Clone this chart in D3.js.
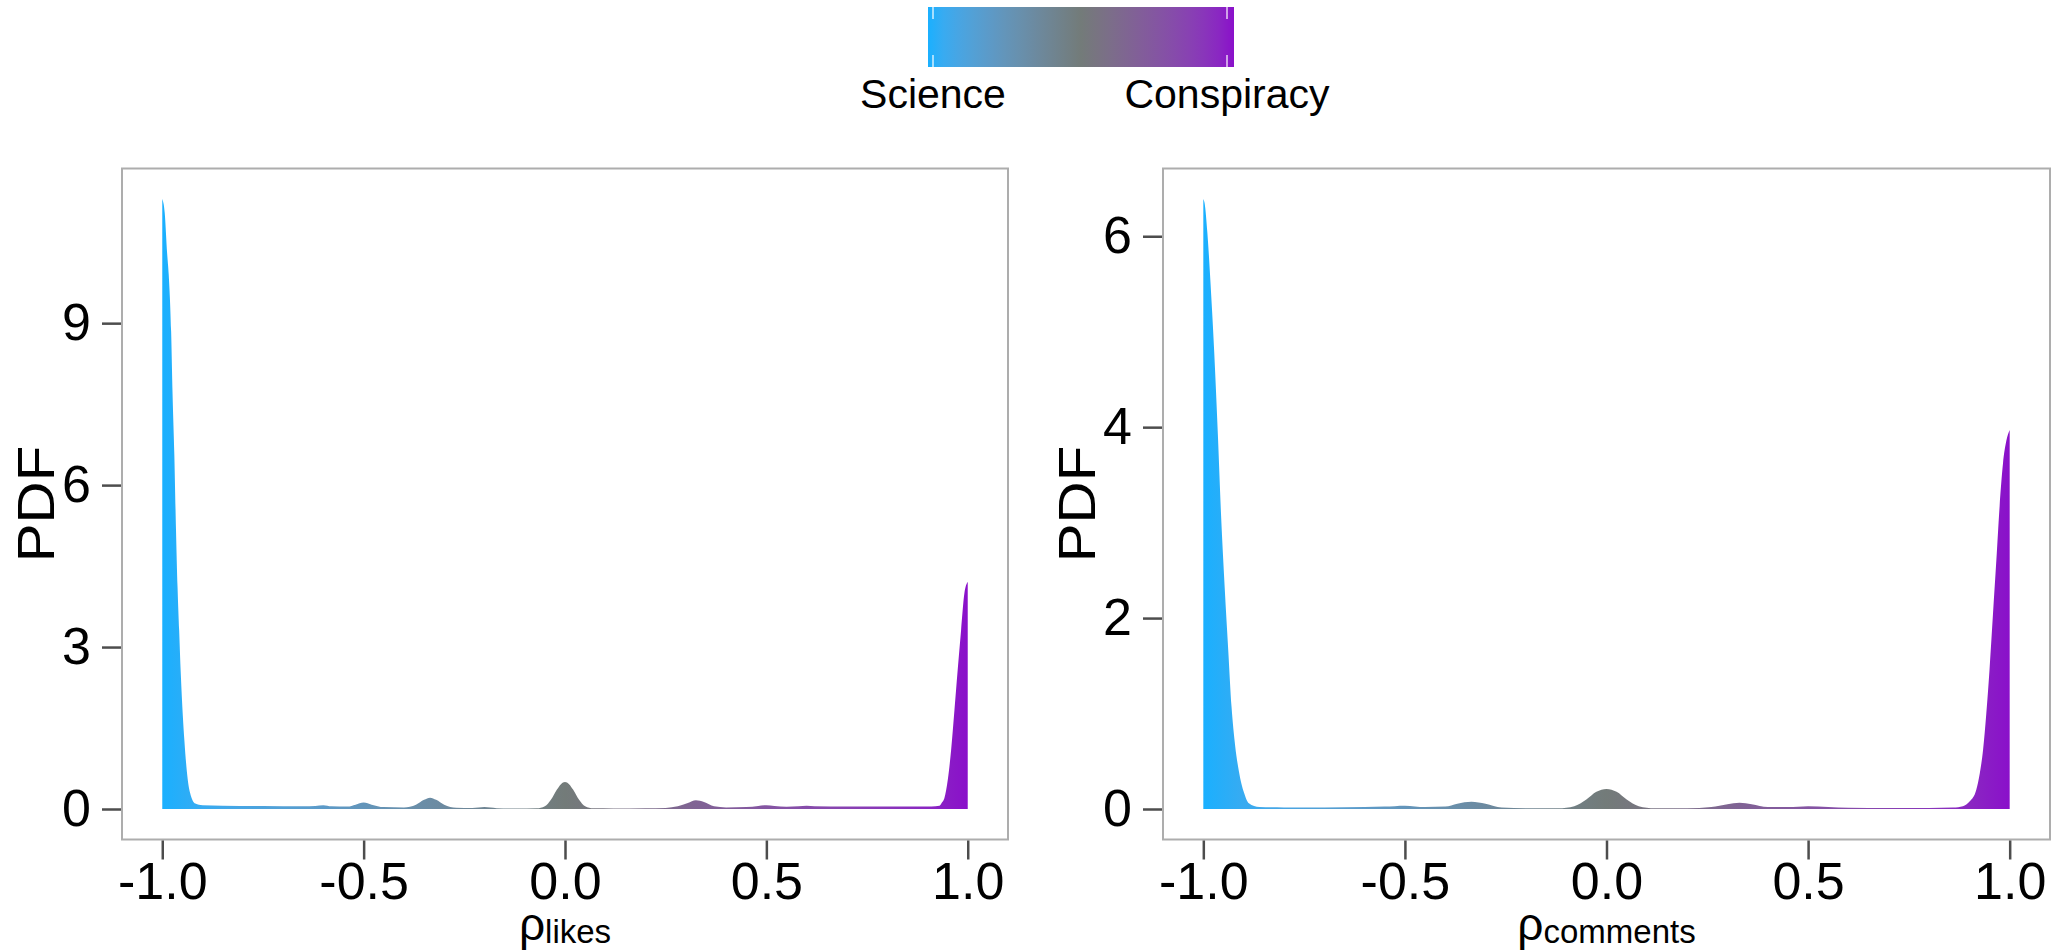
<!DOCTYPE html>
<html>
<head>
<meta charset="utf-8">
<script src="https://cdn.jsdelivr.net/npm/d3@7"></script>
<style>
  html, body { margin: 0; padding: 0; background: #fff; }
  svg { display: block; }
  text { font-family: "Liberation Sans", Arial, Helvetica, sans-serif; fill: #000; }
</style>
</head>
<body>
<svg id="chart" width="2060" height="952"></svg>
<script>
// ---------------- data ----------------
const legendLabels = ["Science", "Conspiracy"];
const xTicks = [-1.0, -0.5, 0.0, 0.5, 1.0];
const likesYTicks = [0, 3, 6, 9];
const commentsYTicks = [0, 2, 4, 6];

const likesX = [-1.000,-0.994,-0.988,-0.984,-0.978,-0.9745,-0.970,-0.966,-0.962,-0.958,-0.954,-0.949,-0.945,-0.939,-0.931,-0.918,-0.900,-0.85,-0.75,-0.65,-0.62,-0.60,-0.58,-0.54,-0.52,-0.50,-0.48,-0.45,-0.40,-0.37,-0.35,-0.335,-0.32,-0.30,-0.27,-0.23,-0.20,-0.17,-0.12,-0.07,-0.05,-0.035,-0.02,-0.01,0.0,0.01,0.02,0.035,0.05,0.07,0.12,0.20,0.25,0.28,0.305,0.325,0.345,0.37,0.40,0.45,0.48,0.50,0.52,0.55,0.58,0.60,0.62,0.70,0.80,0.90,0.920,0.930,0.936,0.942,0.9505,0.9587,0.967,0.975,0.9834,0.9918,1.0];
const likesY = [11.30,11.05,10.3,9.9,8.85,7.7,6.55,5.2,4.1,3.3,2.5,1.73,1.26,0.70,0.30,0.10,0.07,0.06,0.055,0.05,0.055,0.07,0.05,0.045,0.08,0.12,0.08,0.035,0.03,0.08,0.17,0.21,0.17,0.08,0.025,0.02,0.035,0.015,0.008,0.012,0.05,0.17,0.36,0.46,0.50,0.46,0.36,0.17,0.05,0.012,0.01,0.015,0.02,0.05,0.11,0.16,0.13,0.05,0.03,0.035,0.055,0.07,0.055,0.04,0.05,0.058,0.05,0.045,0.045,0.045,0.05,0.06,0.12,0.20,0.54,1.09,1.83,2.57,3.3,4.0,4.21];

const commentsX = [-1.000,-0.997,-0.990,-0.982,-0.973,-0.964,-0.956,-0.947,-0.938,-0.930,-0.921,-0.912,-0.899,-0.887,-0.861,-0.80,-0.70,-0.60,-0.55,-0.50,-0.45,-0.40,-0.37,-0.335,-0.30,-0.26,-0.20,-0.12,-0.08,-0.05,-0.025,0.0,0.025,0.05,0.08,0.12,0.20,0.26,0.30,0.33,0.36,0.40,0.45,0.50,0.55,0.60,0.70,0.80,0.860,0.884,0.901,0.917,0.9257,0.934,0.942,0.950,0.9587,0.967,0.975,0.9834,0.9918,1.0];
const commentsY = [6.39,6.35,6.04,5.5,4.79,3.93,3.08,2.32,1.65,1.07,0.66,0.40,0.17,0.06,0.02,0.017,0.017,0.02,0.025,0.035,0.02,0.025,0.055,0.075,0.055,0.015,0.007,0.008,0.03,0.10,0.18,0.21,0.18,0.10,0.03,0.008,0.007,0.02,0.05,0.065,0.05,0.02,0.02,0.03,0.02,0.012,0.01,0.01,0.015,0.03,0.08,0.20,0.37,0.62,1.0,1.46,2.05,2.61,3.17,3.62,3.86,3.97];

const colLow = "#1AB0FF", colMid = "#737B79", colHigh = "#8A10CA";

// ---------------- drawing ----------------
const svg = d3.select("#chart");
const defs = svg.append("defs");
const colorScale = d3.scaleLinear().domain([-1, 0, 1]).range([colLow, colMid, colHigh]).interpolate(d3.interpolateLab);

function stretch(sel, k) {
  sel.each(function () {
    const L = this.getComputedTextLength();
    d3.select(this).attr("textLength", L * k).attr("lengthAdjust", "spacingAndGlyphs");
  });
}

const panels = [
  { id: "likes", xs: likesX, ys: likesY, yTicks: likesYTicks, left: 122, right: 1008, sub: "likes" },
  { id: "comments", xs: commentsX, ys: commentsY, yTicks: commentsYTicks, left: 1163, right: 2050, sub: "comments" }
];
const panelTop = 168.5, panelBottom = 839.5;
const fontSize = 52;

panels.forEach(p => {
  const data = p.xs.map((x, i) => ({ x, y: p.ys[i] }));
  const ymax = d3.max(p.ys);
  const x = d3.scaleLinear().domain([-1.1, 1.1]).range([p.left, p.right]);
  const y = d3.scaleLinear().domain([-0.05 * ymax, 1.05 * ymax]).range([panelBottom, panelTop]);

  const gid = "grad-" + p.id;
  const grad = defs.append("linearGradient").attr("id", gid)
    .attr("gradientUnits", "userSpaceOnUse")
    .attr("x1", x(-1)).attr("x2", x(1)).attr("y1", 0).attr("y2", 0);
  d3.range(0, 1.0001, 0.05).forEach(t => {
    grad.append("stop").attr("offset", t).attr("stop-color", colorScale(-1 + 2 * t));
  });

  const g = svg.append("g");
  g.append("rect").attr("x", p.left).attr("y", panelTop)
    .attr("width", p.right - p.left).attr("height", panelBottom - panelTop)
    .attr("fill", "#fff").attr("stroke", "#ADADAD").attr("stroke-width", 2);

  const area = d3.area().x(d => x(d.x)).y0(y(0)).y1(d => y(d.y)).curve(d3.curveMonotoneX);
  g.append("path").datum(data).attr("d", area).attr("fill", `url(#${gid})`);

  const xAxis = d3.axisBottom(x).tickValues(xTicks).tickSize(19).tickPadding(3)
    .tickFormat(d => d3.format(".1f")(d).replace("−", "-"));
  const xg = g.append("g").attr("transform", `translate(0,${panelBottom + 1})`).call(xAxis);
  xg.select(".domain").remove();
  xg.selectAll(".tick line").attr("stroke", "#4d4d4d").attr("stroke-width", 2.5);
  xg.selectAll(".tick text").attr("font-size", fontSize).attr("fill", "#000")
    .attr("font-family", "'Liberation Sans', Arial, sans-serif");

  const yAxis = d3.axisLeft(y).tickValues(p.yTicks).tickSize(19).tickPadding(11).tickFormat(d3.format("d"));
  const yg = g.append("g").attr("transform", `translate(${p.left - 1},0)`).call(yAxis);
  yg.select(".domain").remove();
  yg.selectAll(".tick line").attr("stroke", "#4d4d4d").attr("stroke-width", 2.5);
  yg.selectAll(".tick text").attr("font-size", fontSize).attr("fill", "#000")
    .attr("font-family", "'Liberation Sans', Arial, sans-serif");

  const cy = (panelTop + panelBottom) / 2;
  g.append("text").attr("transform", `translate(${p.left - 68},${cy}) rotate(-90)`)
    .attr("text-anchor", "middle").attr("font-size", 52).text("PDF").call(stretch, 1.12);

  const t = g.append("text").attr("x", (p.left + p.right) / 2).attr("y", 940)
    .attr("text-anchor", "middle").attr("font-size", 46);
  t.append("tspan").text("ρ");
  t.append("tspan").attr("font-size", 33).attr("dy", 3).text(p.sub);
});

// ---------------- legend colorbar ----------------
const lg = svg.append("g");
const lx0 = 928, lx1 = 1234, ly0 = 7, ly1 = 67;
const lgrad = defs.append("linearGradient").attr("id", "legend-grad")
  .attr("x1", 0).attr("x2", 1).attr("y1", 0).attr("y2", 0);
d3.range(0, 1.0001, 0.05).forEach(t => {
  lgrad.append("stop").attr("offset", t).attr("stop-color", colorScale(-1 + 2 * t));
});
lg.append("rect").attr("x", lx0).attr("y", ly0).attr("width", lx1 - lx0).attr("height", ly1 - ly0)
  .attr("fill", "url(#legend-grad)");
const lscale = d3.scalePoint().domain(legendLabels).range([933, 1227]);
legendLabels.forEach(l => {
  const xx = lscale(l);
  lg.append("line").attr("x1", xx).attr("x2", xx).attr("y1", ly0).attr("y2", ly0 + 12)
    .attr("stroke", "#fff").attr("stroke-width", 1.5).attr("opacity", 0.8);
  lg.append("line").attr("x1", xx).attr("x2", xx).attr("y1", ly1 - 12).attr("y2", ly1)
    .attr("stroke", "#fff").attr("stroke-width", 1.5).attr("opacity", 0.8);
  lg.append("text").attr("x", xx).attr("y", 108).attr("text-anchor", "middle")
    .attr("font-size", 41).text(l);
});
</script>
</body>
</html>
